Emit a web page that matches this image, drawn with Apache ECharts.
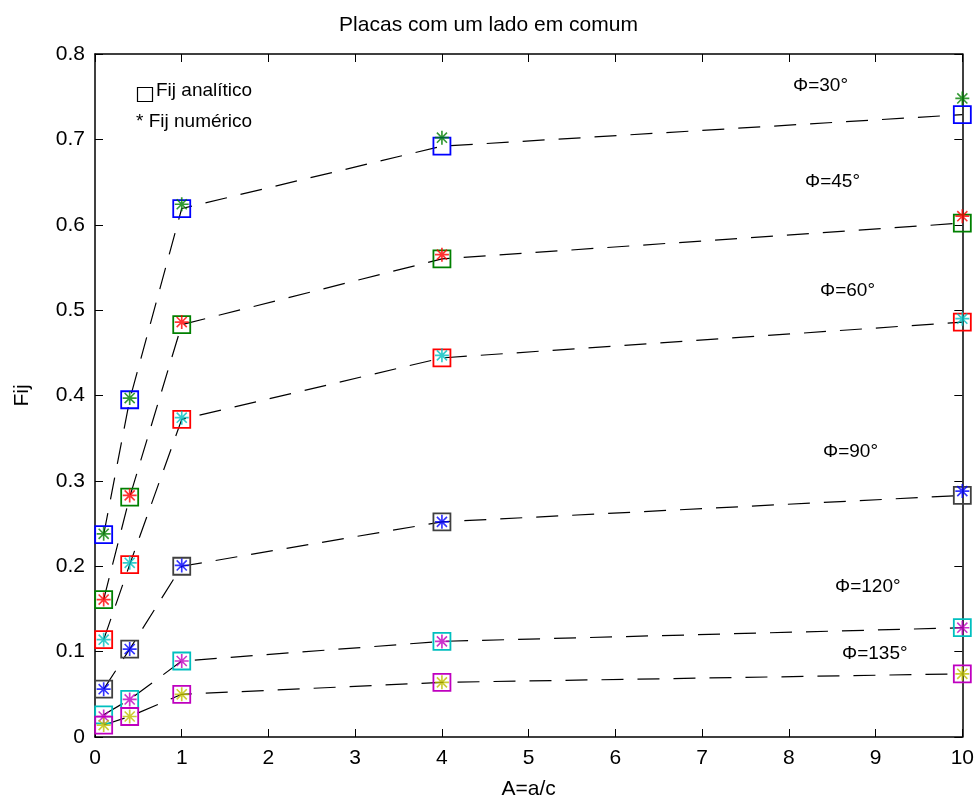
<!DOCTYPE html>
<html>
<head>
<meta charset="utf-8">
<script src="https://cdn.jsdelivr.net/npm/echarts@6/dist/echarts.min.js"></script>
<style>
  html, body { margin: 0; padding: 0; background: #fff; }
  #chart { width: 977px; height: 805px; }
</style>
</head>
<body>
<div id="chart"></div>
<script>
// razão de aspecto A=a/c
const xVals = [0.1, 0.4, 1, 4, 10];
const phiNames = ['Φ=30°', 'Φ=45°', 'Φ=60°', 'Φ=90°', 'Φ=120°', 'Φ=135°'];

// Fij analítico / numérico para cada ângulo
const fijAnalitico30 = [0.237, 0.395, 0.619, 0.692, 0.729];
const fijNumerico30 = [0.238, 0.397, 0.624, 0.702, 0.748];
const fijAnalitico45 = [0.161, 0.281, 0.483, 0.560, 0.602];
const fijNumerico45 = [0.161, 0.283, 0.486, 0.565, 0.610];
const fijAnalitico60 = [0.114, 0.202, 0.372, 0.444, 0.486];
const fijNumerico60 = [0.114, 0.204, 0.374, 0.447, 0.490];
const fijAnalitico90 = [0.056, 0.103, 0.200, 0.252, 0.283];
const fijNumerico90 = [0.056, 0.103, 0.201, 0.252, 0.288];
const fijAnalitico120 = [0.026, 0.044, 0.089, 0.112, 0.128];
const fijNumerico120 = [0.024, 0.044, 0.089, 0.112, 0.128];
const fijAnalitico135 = [0.014, 0.024, 0.050, 0.064, 0.074];
const fijNumerico135 = [0.014, 0.024, 0.050, 0.064, 0.074];

const analitico = [fijAnalitico30, fijAnalitico45, fijAnalitico60, fijAnalitico90, fijAnalitico120, fijAnalitico135];
const numerico = [fijNumerico30, fijNumerico45, fijNumerico60, fijNumerico90, fijNumerico120, fijNumerico135];

const squareColors = ['#0000ff', '#008000', '#ff0000', '#404040', '#00bfbf', '#bf00bf'];
const starColors = ['#008000', '#ff0000', '#00bfbf', '#0000ff', '#bf00bf', '#bfbf00'];

const FONT = 'Liberation Sans, Arial, sans-serif';
const starPath = 'path://M4.4 0H5.6V10H4.4Z M0 4.4H10V5.6H0Z M1.8 1.0L9.0 8.2L8.2 9.0L1.0 1.8Z M8.2 1.0L9.0 1.8L1.8 9.0L1.0 8.2Z';

const pairs = (ys) => xVals.map((x, i) => [x, ys[i]]);

const series = [];
analitico.forEach((ys, k) => {
  series.push({
    name: 'Fij analítico ' + phiNames[k],
    type: 'line',
    data: pairs(ys),
    symbol: 'rect',
    symbolSize: 17,
    lineStyle: { color: '#000', width: 1.2, type: [22, 14] },
    itemStyle: { color: 'rgba(0,0,0,0)', borderColor: squareColors[k], borderWidth: 1.8 },
    z: 2,
    animation: false
  });
});
numerico.forEach((ys, k) => {
  series.push({
    name: 'Fij numérico ' + phiNames[k],
    type: 'scatter',
    data: pairs(ys),
    symbol: starPath,
    symbolSize: 14,
    itemStyle: { color: starColors[k] },
    z: 3,
    animation: false
  });
});

// rótulos Φ (posição em pixels, como no gráfico original)
const phiPos = [[793, 87], [805, 183], [820, 292], [823, 453], [835, 588], [842, 655]];

const chart = echarts.init(document.getElementById('chart'));
chart.setOption({
  backgroundColor: '#fff',
  animation: false,
  title: {
    text: 'Placas com um lado em comum',
    left: 'center',
    top: 10,
    textStyle: { fontFamily: FONT, fontSize: 21, fontWeight: 'normal', color: '#000' }
  },
  grid: { left: 95, right: 14, top: 54, bottom: 66 },
  xAxis: [
    {
      type: 'value', min: 0, max: 10, interval: 1,
      name: 'A=a/c', nameLocation: 'middle', nameGap: 42,
      nameTextStyle: { fontFamily: FONT, fontSize: 21, color: '#000' },
      axisLine: { lineStyle: { color: '#000', width: 1.5 } },
      axisTick: { inside: true, length: 8, lineStyle: { color: '#000' } },
      axisLabel: { fontFamily: FONT, fontSize: 21, color: '#000', margin: 11 },
      splitLine: { show: false }
    },
    {
      type: 'value', min: 0, max: 10, interval: 1, position: 'top',
      axisLine: { onZero: false, lineStyle: { color: '#000', width: 1.5 } },
      axisTick: { inside: true, length: 8, lineStyle: { color: '#000' } },
      axisLabel: { show: false },
      splitLine: { show: false }
    }
  ],
  yAxis: [
    {
      type: 'value', min: 0, max: 0.8, interval: 0.1,
      name: 'Fij', nameLocation: 'middle', nameGap: 62,
      nameTextStyle: { fontFamily: FONT, fontSize: 21, color: '#000' },
      axisLine: { show: true, lineStyle: { color: '#000', width: 1.5 } },
      axisTick: { show: true, inside: true, length: 8, lineStyle: { color: '#000' } },
      axisLabel: { fontFamily: FONT, fontSize: 21, color: '#000', margin: 10 },
      splitLine: { show: false }
    },
    {
      type: 'value', min: 0, max: 0.8, interval: 0.1, position: 'right',
      axisLine: { show: true, onZero: false, lineStyle: { color: '#000', width: 1.5 } },
      axisTick: { show: true, inside: true, length: 8, lineStyle: { color: '#000' } },
      axisLabel: { show: false },
      splitLine: { show: false }
    }
  ],
  graphic: [
    {
      type: 'rect', left: 135, top: 85,
      shape: { width: 15, height: 14 },
      style: { fill: 'none', stroke: '#000', lineWidth: 1.2 }
    },
    {
      type: 'text', left: 156, top: 81,
      style: { text: 'Fij analítico', fontFamily: FONT, fontSize: 19, fill: '#000' }
    },
    {
      type: 'text', left: 136, top: 112,
      style: { text: '* Fij numérico', fontFamily: FONT, fontSize: 19, fill: '#000' }
    }
  ].concat(phiNames.map((t, k) => ({
    type: 'text', left: phiPos[k][0], top: phiPos[k][1] - 11,
    style: { text: t, fontFamily: FONT, fontSize: 19, fill: '#000' }
  }))),
  series: series
});
</script>
</body>
</html>
